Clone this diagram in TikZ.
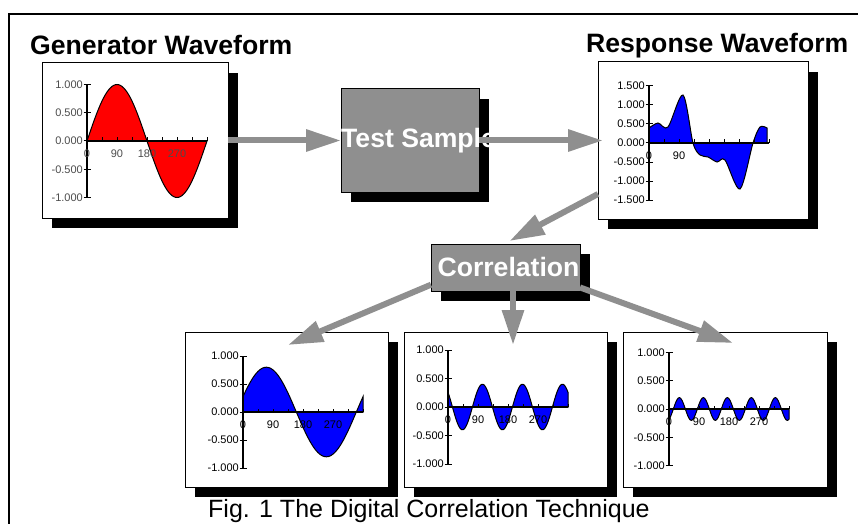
\documentclass[tikz,border=0pt]{standalone}
\usepackage{fontspec}
\setmainfont{Liberation Sans}
\usetikzlibrary{positioning,shadows,arrows.meta}
\definecolor{sampgray}{RGB}{143,143,143}
\definecolor{genred}{RGB}{255,0,0}
\definecolor{corrblue}{RGB}{0,0,255}
\tikzstyle{panel} = [rectangle, draw=black, line width=1pt, fill=white, inner sep=0pt, outer sep=0pt, drop shadow={shadow xshift=10pt, shadow yshift=-10pt, opacity=1, fill=black}]
\tikzstyle{graybox} = [panel, fill=sampgray]
\tikzstyle{heading} = [font=\fontsize{26.6}{30}\selectfont\bfseries, inner sep=0pt, anchor=base west]
\tikzstyle{boxlabel} = [font=\fontsize{26.6}{30}\selectfont\bfseries, text=white, inner sep=0pt]
\tikzstyle{flow} = [draw=sampgray, line width=6pt, -{Triangle[length=35pt, width=21pt]}]
\tikzstyle{axis} = [line width=1.5pt]
\tikzstyle{tick} = [line width=1pt]
\tikzstyle{ticklabel} = [font=\fontsize{11}{12}\selectfont, inner sep=0pt]
\tikzstyle{wave} = [draw=black, line width=1pt]

% axes, ticks and labels of one small chart
% #1 = pixels per unit, #2 = prefix of the label names
\newcommand{\waveaxes}[2]{%
  \draw[axis] (0,-#1) -- (0,#1);
  \draw[axis] (0,0) -- (120,0);
  \foreach \t in {45,90,...,360} \draw[tick] (\t/3,0) -- (\t/3,3.5);
  \foreach \v/\l [count=\i] in {1/1.000, 0.5/0.500, 0/0.000, -0.5/-0.500, -1/-1.000} {
    \draw[tick] (-3.5,\v*#1) -- (3.5,\v*#1);
    \node[ticklabel, anchor=east] (#2y\i) at (-4,\v*#1) {\l};
  }
  \foreach \t [count=\i] in {0,90,180,270} \node[ticklabel] (#2x\i) at (\t/3,-13) {\t};
}

\begin{document}
\begin{tikzpicture}[x=1pt, y=1pt]
\useasboundingbox (0,0) rectangle (858,523);

% frame
\draw[line width=2.5pt] (9,-20) -- (9,509) -- (880,509);

% headings
\node[heading] (gentitle) at (30,468) {Generator Waveform};
\node[heading] (resptitle) at (586,470) {Response Waveform};

% boxes =============================
\node[panel, anchor=north west, minimum width=186pt, minimum height=155pt] (gen) at (42,460) {};
\node[graybox, minimum width=138pt, minimum height=103pt, right=113pt of gen] (test) {};
\node[panel, minimum width=210pt, minimum height=157pt, right=119pt of test] (resp) {};
\node[graybox, anchor=north west, minimum width=149pt, minimum height=47pt] (corr) at (431,279) {};
\node[panel, anchor=north west, minimum width=203pt, minimum height=155pt] (outA) at (185,191) {};
\node[panel, minimum width=203pt, minimum height=155pt, right=16pt of outA] (outB) {};
\node[panel, minimum width=204pt, minimum height=155pt, right=16pt of outB] (outC) {};

\node[boxlabel, anchor=west] (testtext) at (test.west) {Test Sample};
\node[boxlabel] (corrtext) at ([xshift=3pt, yshift=1pt]corr.center) {Correlation};

% generator chart
\begin{scope}[shift={(87,382)}, every node/.append style={text=black!70}]
\filldraw[fill=genred, wave] (0,0) -- plot[domain=0:360, samples=73] ({\x/3}, {56.5*sin(\x)}) -- cycle;
\waveaxes{56.5}{gen}
\end{scope}

% response chart
\begin{scope}[shift={(649,380)}]
\filldraw[fill=corrblue, wave] (0,0) -- plot[smooth, tension=0.5] coordinates {(0,15) (9,20) (19,16) (34,48) (44,0) (51,-12) (59,-14) (68,-19) (76,-17) (91,-46) (104,0) (111,16) (118,15)} -- (118,0) -- cycle;
\draw[axis] (0,-57) -- (0,57);
\draw[axis] (0,0) -- (120,0);
\foreach \t in {45,90,...,360} \draw[tick] (\t/3,0) -- (\t/3,3.5);
\foreach \v/\l [count=\i] in {3/1.500, 2/1.000, 1/0.500, 0/0.000, -1/-0.500, -2/-1.000, -3/-1.500} {
  \draw[tick] (-3.5,\v*19) -- (3.5,\v*19);
  \node[ticklabel, anchor=east] (respy\i) at (-4,\v*19) {\l};
}
\node[ticklabel] (respx1) at (0,-13) {0};
\node[ticklabel] (respx2) at (30,-13) {90};
\end{scope}

% correlation charts
\begin{scope}[shift={(243,111)}]
\filldraw[fill=corrblue, wave] (0,0) -- plot[domain=0:360, samples=73] ({\x/3}, {44.8*sin(\x+20)}) -- (120,0) -- cycle;
\waveaxes{56}{outA}
\end{scope}

\begin{scope}[shift={(448,116)}]
\filldraw[fill=corrblue, wave] (0,0) -- plot[domain=0:360, samples=121] ({\x/3}, {22.8*sin(3*\x+140)}) -- (120,0) -- cycle;
\waveaxes{57}{outB}
\end{scope}

\begin{scope}[shift={(669,114)}]
\filldraw[fill=corrblue, wave] (0,0) -- plot[domain=0:360, samples=181] ({\x/3}, {11.3*sin(5*\x+295)}) -- (120,0) -- cycle;
\waveaxes{56.5}{outC}
\end{scope}

% arrows
\path[flow] (gen.east) -- (test.west);
\path[flow, shorten >=-5pt] (test.east) -- (resp.west);
\path[flow] (resp.207) -- ([xshift=4pt, yshift=3pt]corr.north);
\path[flow] (corr.193) -- ([xshift=1.5pt, yshift=-13pt]outA.north);
\path[flow] ([xshift=7.5pt]corr.south) -- ([xshift=7.5pt, yshift=-13pt]outB.north);
\path[flow] (corr.345) -- ([xshift=8pt, yshift=-11pt]outC.north);

% caption
\node[anchor=base west, inner sep=0pt, font=\fontsize{25}{30}\selectfont] (caption) at (208,6) {Fig. 1 The Digital Correlation Technique};
\end{tikzpicture}
\end{document}
